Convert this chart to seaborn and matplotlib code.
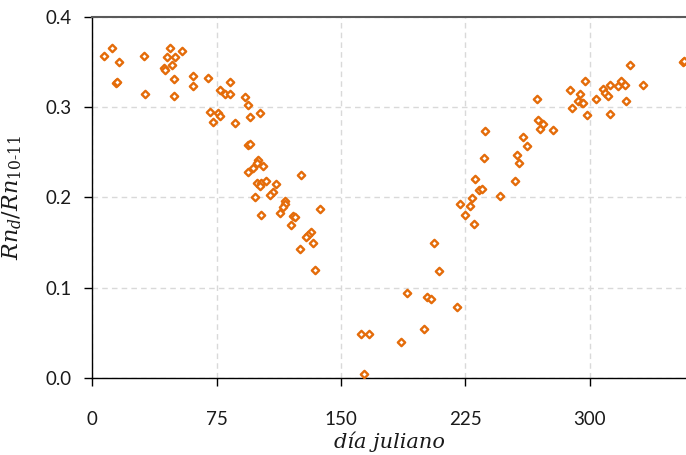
import matplotlib
matplotlib.use("Agg")
import matplotlib.pyplot as plt
import seaborn as sns
import pandas as pd

# Julian day and ratio Rn_d / Rn_10-11
dia = [7, 12, 16, 14, 15, 31, 32, 47, 54, 45, 50, 48, 43, 44, 49, 49, 61, 61, 70, 83,
       77, 80, 83, 92, 94, 101, 95, 71, 76, 77, 73, 86,
       94, 95, 100, 99, 97, 94, 103, 126, 99, 102, 105, 111, 101, 98, 109, 107, 116, 116,
       115, 113, 137, 102, 121, 122, 120, 132, 130, 129, 133, 125, 134,
       162, 167, 164, 186, 190, 200, 202, 204, 206, 209, 220, 222, 225, 228, 229, 230, 231,
       233, 235, 236, 237, 246, 255, 257, 256, 262, 260, 268, 269, 272, 270, 278, 288, 289,
       294, 293, 295, 296, 298, 297, 304,
       308, 309, 311, 312, 312, 317, 319, 321, 324, 322, 332, 356, 357]
ratio = [0.357, 0.365, 0.350, 0.327, 0.328, 0.357, 0.314, 0.365, 0.362, 0.355, 0.355, 0.347,
         0.343, 0.341, 0.331, 0.312, 0.334, 0.323, 0.332, 0.328, 0.319, 0.314, 0.314, 0.311,
         0.302, 0.293, 0.289, 0.295, 0.293, 0.290, 0.283, 0.282,
         0.258, 0.259, 0.241, 0.238, 0.233, 0.228, 0.235, 0.225, 0.216, 0.216, 0.218, 0.215,
         0.213, 0.200, 0.206, 0.203, 0.196, 0.193, 0.189, 0.183, 0.187, 0.181, 0.179, 0.178,
         0.169, 0.162, 0.158, 0.156, 0.149, 0.143, 0.120,
         0.049, 0.049, 0.004, 0.040, 0.094, 0.054, 0.090, 0.087, 0.149, 0.119, 0.079, 0.193,
         0.180, 0.190, 0.199, 0.170, 0.220,
         0.208, 0.209, 0.244, 0.273, 0.202, 0.218, 0.238, 0.247, 0.257, 0.267, 0.309, 0.286,
         0.281, 0.276, 0.275, 0.319, 0.299, 0.314, 0.307, 0.304, 0.305, 0.291, 0.329, 0.309,
         0.320, 0.315, 0.312, 0.324, 0.292, 0.323, 0.329, 0.324, 0.346, 0.307, 0.324, 0.350,
         0.351]
x_ticks = [0, 75, 150, 225, 300]
y_ticks = [0.0, 0.1, 0.2, 0.3, 0.4]
y_tick_labels = ["0.0", "0.1", "0.2", "0.3", "0.4"]

sns.set_theme(style="white")
plt.rcParams['font.family'] = ['Lato', 'DejaVu Sans']
plt.rcParams['mathtext.fontset'] = 'dejavuserif'

orange = '#E46C0A'
df = pd.DataFrame({'dia': dia, 'ratio': ratio})

fig = plt.figure(figsize=(6.86, 4.55), dpi=100)
ax = fig.add_axes([0.1346, 0.1692, 0.8654, 0.7941])

sns.scatterplot(data=df, x='dia', y='ratio', marker='D', s=14,
                facecolor='white', edgecolor=orange, linewidth=1.7,
                ax=ax, zorder=3, legend=False)

ax.set_xlim(0, 358)
ax.set_ylim(0, 0.4)
ax.set_xticks(x_ticks)
ax.set_xticklabels([str(t) for t in x_ticks])
ax.set_yticks(y_ticks)
ax.set_yticklabels(y_tick_labels)

ax.grid(True, color='#d9d9d9', linestyle=(0, (4, 3)), linewidth=1.0)
ax.set_axisbelow(True)

for s in ['left', 'bottom']:
    ax.spines[s].set_color('black')
    ax.spines[s].set_linewidth(1.0)
ax.spines['top'].set_color('#5a5a5a')
ax.spines['top'].set_linewidth(1.5)
ax.spines['right'].set_visible(False)

ax.tick_params(axis='both', which='major', direction='out', length=6, width=1.0,
               color='black', labelsize=13.5, labelcolor='#1a1a1a')
ax.tick_params(axis='x', pad=18, bottom=True)
ax.tick_params(axis='y', pad=9, left=True)

ax.set_xlabel('día juliano', fontfamily='DejaVu Serif', style='italic', fontsize=15,
              color='#1a1a1a', labelpad=2)
ax.set_ylabel('$Rn_{d}/Rn_{\\mathit{10\u201011}}$', fontsize=16, color='#1a1a1a')
ax.yaxis.set_label_coords(-0.115, 0.5)

fig.savefig('out.png', dpi=100)
